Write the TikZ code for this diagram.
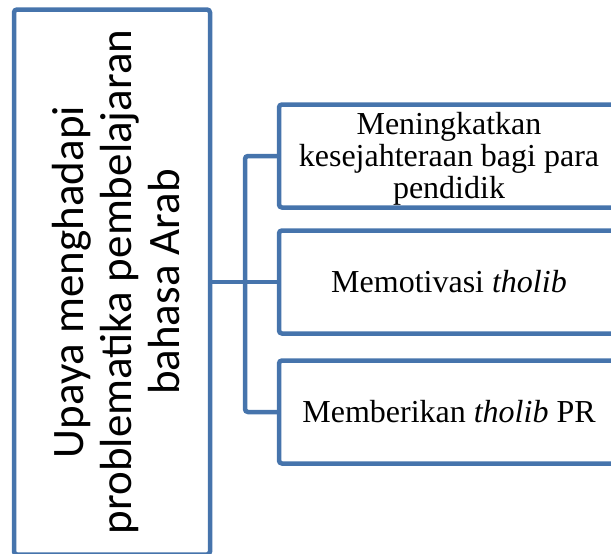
\documentclass[tikz,border=0pt]{standalone}
\usepackage{fontspec}
\setmainfont{Liberation Serif}
\newfontfamily\calibrifont{Carlito}
\definecolor{sablue}{RGB}{70,116,172}
\begin{document}
\begin{tikzpicture}[x=1pt,y=-1pt,
  box/.style={draw=sablue, line width=4.5pt, rounded corners=3pt, fill=white, inner sep=0pt},
  rbox/.style={box, minimum width=340pt, minimum height=103pt, align=center, font=\fontsize{32}{32}\selectfont},
  link/.style={draw=sablue, line width=4.5pt, rounded corners=3pt},
  vtext/.style={rotate=90, align=center, inner sep=0pt, font=\calibrifont\fontsize{45}{48}\selectfont}]
\useasboundingbox (0,0) rectangle (611,554);
\clip (0,0) rectangle (611,554);
\node[box, minimum width=196pt, minimum height=545pt] (L) at (112,282) {};
\node[vtext] (Lt) at (116,282) {Upaya menghadapi\\problematika pembelajaran\\bahasa Arab};
\node[rbox] (b1) at (449,156) {};
\node[align=center, inner sep=0pt, font=\fontsize{32}{32}\selectfont] (b1t) at (449,159) {Meningkatkan\\kesejahteraan bagi para\\pendidik};
\node[rbox] (b2) at (449,282) {Memotivasi \textit{tholib}};
\node[rbox] (b3) at (449,412) {Memberikan \textit{tholib} PR};
\coordinate (jx) at (245,282);
\draw[link] (L.east) -- (b2.west);
\draw[link] (b1.west) -| (jx) |- (b3.west);
\end{tikzpicture}
\end{document}
